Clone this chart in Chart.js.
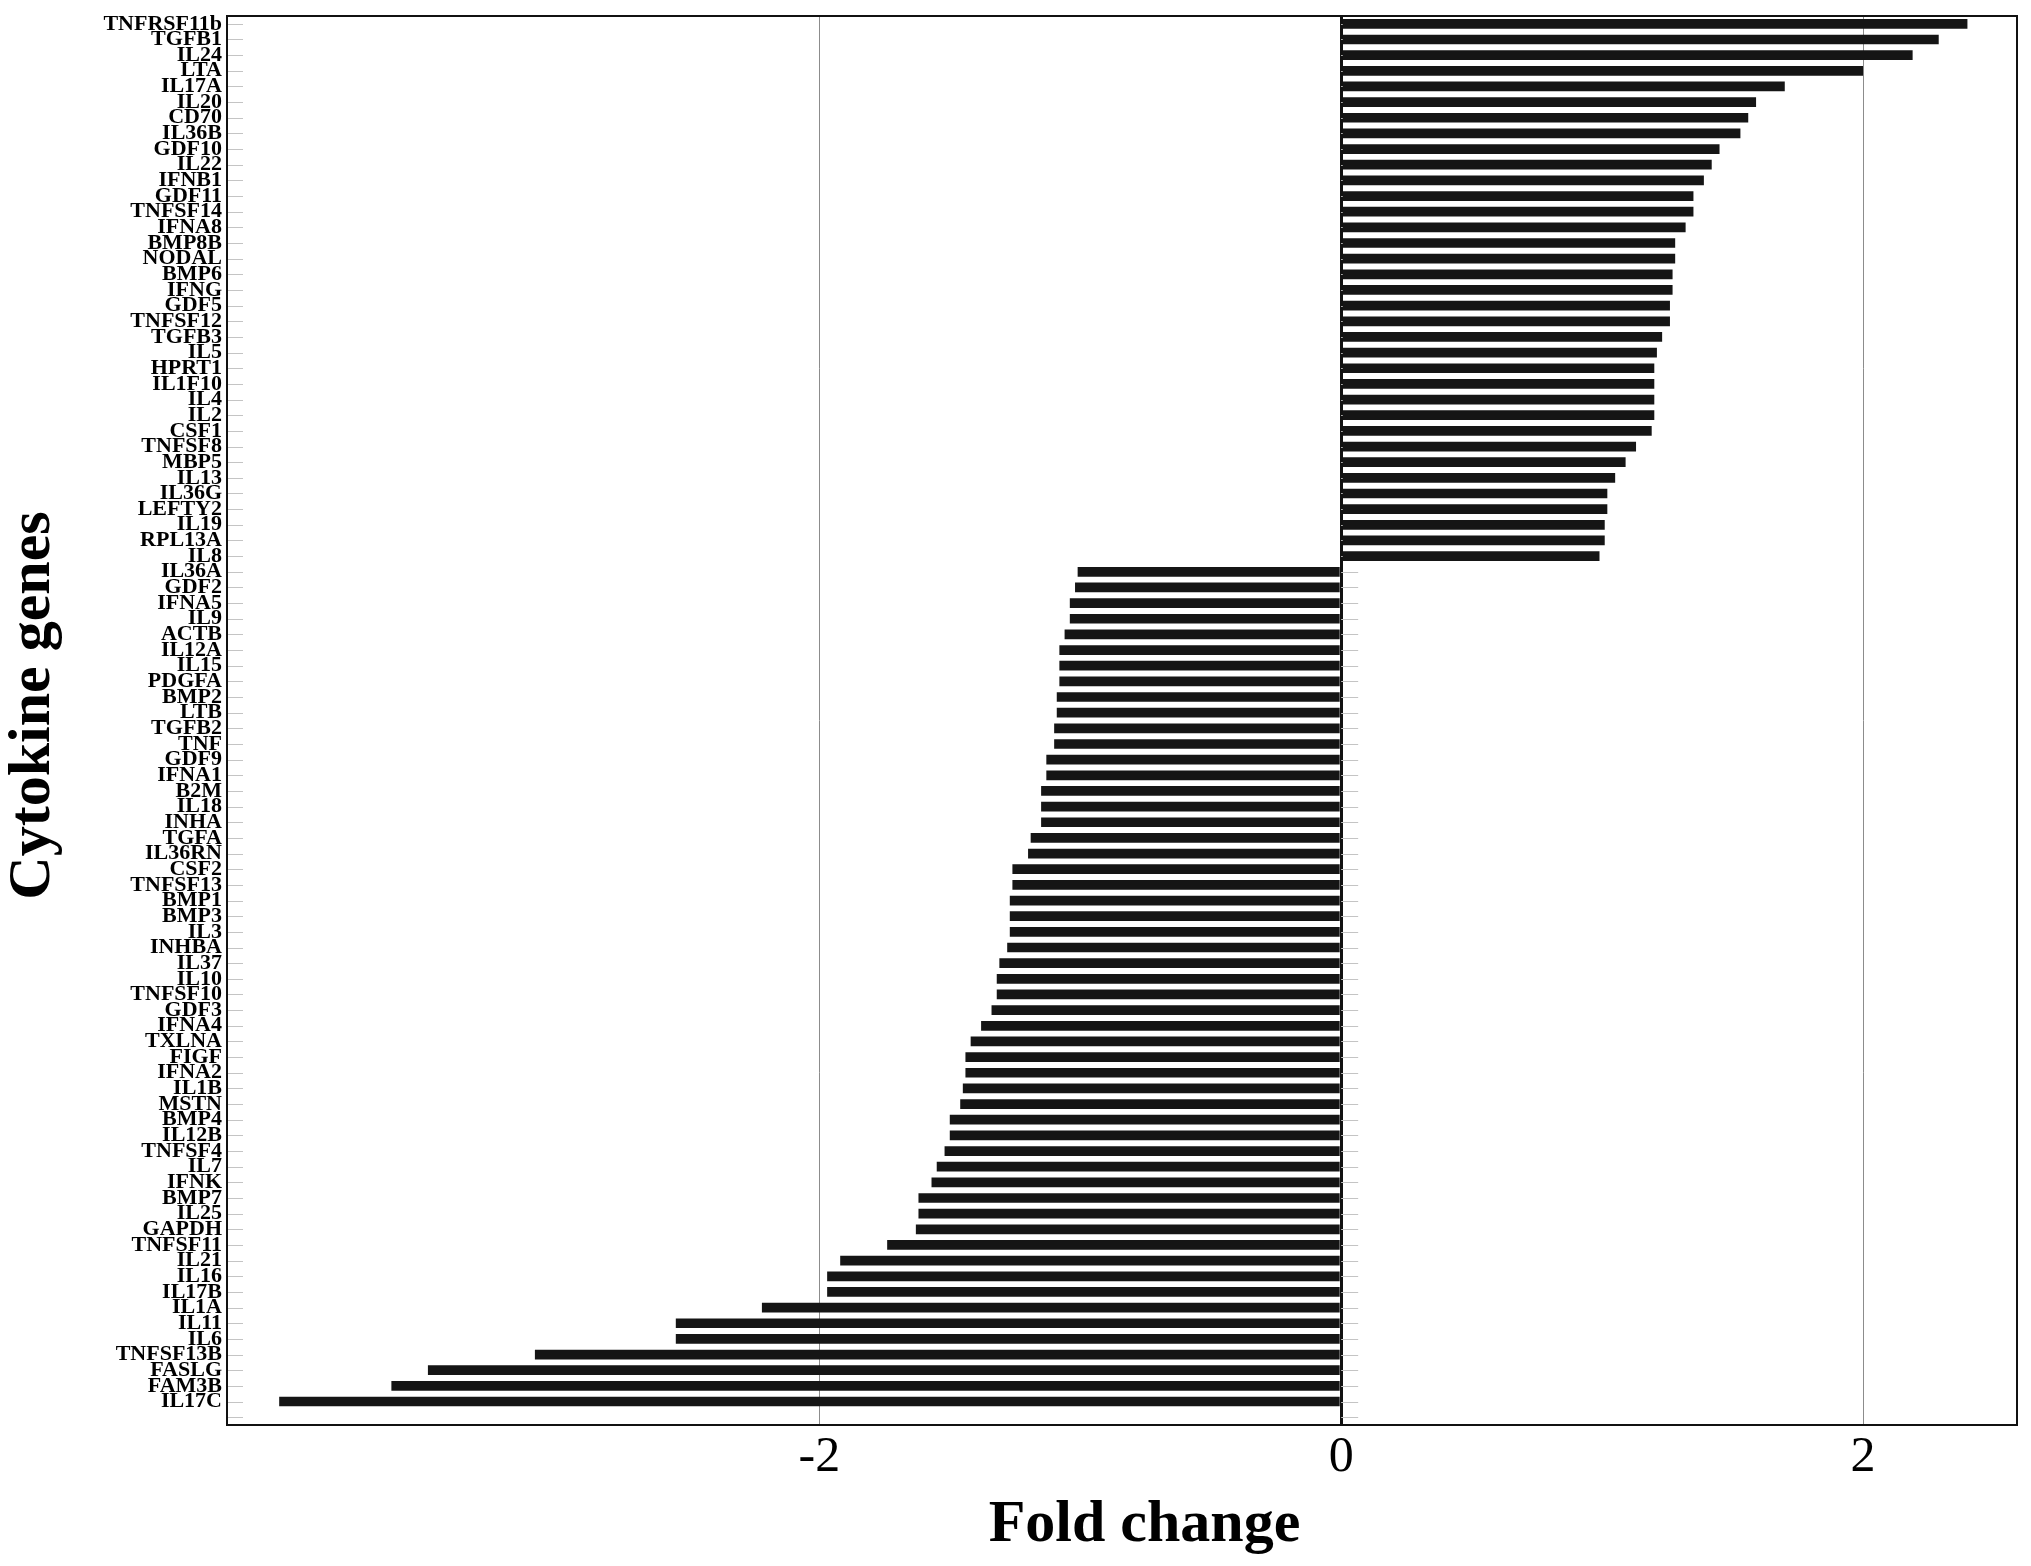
<!DOCTYPE html>
<html>
<head>
<meta charset="utf-8">
<title>Cytokine genes - fold change</title>
<script src="https://cdn.jsdelivr.net/npm/chart.js@4.4.1/dist/chart.umd.min.js"></script>
<style>
    html, body { margin: 0; padding: 0; background: #fff; }
    #chartWrap { width: 2031px; height: 1566px; }
</style>
</head>
<body>
<div id="chartWrap"><canvas id="foldChart" width="2031" height="1566"></canvas></div>
<script>
// Gene names, top to bottom (the last empty slot is the spare tick under IL17C)
const genes = [
    'TNFRSF11b', 'TGFB1', 'IL24', 'LTA', 'IL17A', 'IL20', 'CD70', 'IL36B', 'GDF10', 'IL22',
    'IFNB1', 'GDF11', 'TNFSF14', 'IFNA8', 'BMP8B', 'NODAL', 'BMP6', 'IFNG', 'GDF5', 'TNFSF12',
    'TGFB3', 'IL5', 'HPRT1', 'IL1F10', 'IL4', 'IL2', 'CSF1', 'TNFSF8', 'MBP5', 'IL13',
    'IL36G', 'LEFTY2', 'IL19', 'RPL13A', 'IL8', 'IL36A', 'GDF2', 'IFNA5', 'IL9', 'ACTB',
    'IL12A', 'IL15', 'PDGFA', 'BMP2', 'LTB', 'TGFB2', 'TNF', 'GDF9', 'IFNA1', 'B2M',
    'IL18', 'INHA', 'TGFA', 'IL36RN', 'CSF2', 'TNFSF13', 'BMP1', 'BMP3', 'IL3', 'INHBA',
    'IL37', 'IL10', 'TNFSF10', 'GDF3', 'IFNA4', 'TXLNA', 'FIGF', 'IFNA2', 'IL1B', 'MSTN',
    'BMP4', 'IL12B', 'TNFSF4', 'IL7', 'IFNK', 'BMP7', 'IL25', 'GAPDH', 'TNFSF11', 'IL21',
    'IL16', 'IL17B', 'IL1A', 'IL11', 'IL6', 'TNFSF13B', 'FASLG', 'FAM3B', 'IL17C', ''
];

// Fold change per gene, same order
const foldChange = [
    2.40, 2.29, 2.19, 2.00, 1.70, 1.59, 1.56, 1.53, 1.45, 1.42,
    1.39, 1.35, 1.35, 1.32, 1.28, 1.28, 1.27, 1.27, 1.26, 1.26,
    1.23, 1.21, 1.20, 1.20, 1.20, 1.20, 1.19, 1.13, 1.09, 1.05,
    1.02, 1.02, 1.01, 1.01, 0.99, -1.01, -1.02, -1.04, -1.04, -1.06,
    -1.08, -1.08, -1.08, -1.09, -1.09, -1.10, -1.10, -1.13, -1.13, -1.15,
    -1.15, -1.15, -1.19, -1.20, -1.26, -1.26, -1.27, -1.27, -1.27, -1.28,
    -1.31, -1.32, -1.32, -1.34, -1.38, -1.42, -1.44, -1.44, -1.45, -1.46,
    -1.50, -1.50, -1.52, -1.55, -1.57, -1.62, -1.62, -1.63, -1.74, -1.92,
    -1.97, -1.97, -2.22, -2.55, -2.55, -3.09, -3.50, -3.64, -4.07, null
];

// Fold change axis
const xTicks = [-2, 0, 2];
const xMin = -4.27;
const xMax = 2.59;

const serif = "'Liberation Serif', 'Times New Roman', serif";

/**
 * Short grey tick marks inside the plot (left edge and along zero)
 * plus the black frame around the plot area
 */
const framePlugin = {
    id: 'frame',
    beforeDatasetsDraw(chart) {
        const { ctx, chartArea, scales } = chart;
        const yScale = scales.y;
        const zeroX = scales.x.getPixelForValue(0);

        ctx.save();
        ctx.strokeStyle = '#c4c4c4';
        ctx.lineWidth = 1;
        ctx.beginPath();
        yScale.ticks.forEach((tick, i) => {
            const py = Math.round(yScale.getPixelForTick(i)) + 0.5;
            ctx.moveTo(chartArea.left, py);
            ctx.lineTo(chartArea.left + 16, py);
            ctx.moveTo(zeroX, py);
            ctx.lineTo(zeroX + 17, py);
        });
        ctx.stroke();
        ctx.restore();
    },
    afterDraw(chart) {
        const { ctx, chartArea } = chart;
        ctx.save();
        ctx.strokeStyle = '#111';
        ctx.lineWidth = 2;
        ctx.strokeRect(chartArea.left, chartArea.top,
            chartArea.right - chartArea.left, chartArea.bottom - chartArea.top);
        ctx.restore();
    }
};

document.addEventListener('DOMContentLoaded', function() {
    const ctx = document.getElementById('foldChart').getContext('2d');

    new Chart(ctx, {
        type: 'bar',
        data: {
            labels: genes,
            datasets: [{
                label: 'Fold change',
                data: foldChange,
                backgroundColor: '#151515',
                borderWidth: 0,
                barPercentage: 0.62,
                categoryPercentage: 1
            }]
        },
        options: {
            indexAxis: 'y',
            responsive: false,
            animation: false,
            devicePixelRatio: 1,
            layout: {
                padding: { top: 16, right: 14, bottom: 0, left: 0 }
            },
            plugins: {
                legend: { display: false },
                tooltip: { enabled: false }
            },
            scales: {
                x: {
                    type: 'linear',
                    min: xMin,
                    max: xMax,
                    afterBuildTicks: scale => {
                        scale.ticks = xTicks.map(v => ({ value: v }));
                    },
                    ticks: {
                        color: '#000',
                        padding: 8,
                        font: { family: serif, size: 50, lineHeight: 1 }
                    },
                    grid: {
                        drawTicks: false,
                        color: c => (c.tick && c.tick.value === 0 ? '#111' : '#8c8c8c'),
                        lineWidth: c => (c.tick && c.tick.value === 0 ? 3 : 1)
                    },
                    border: { display: false },
                    title: {
                        display: true,
                        text: '   Fold change',
                        color: '#000',
                        font: { family: serif, size: 60, weight: 'bold', lineHeight: 1.2 },
                        padding: { top: 0, bottom: 5 }
                    },
                    afterFit: scale => {
                        scale.height = 141;
                        scale.paddingLeft = 0;
                        scale.paddingRight = 0;
                    }
                },
                y: {
                    type: 'category',
                    offset: true,
                    grid: { display: false, drawTicks: false },
                    border: { display: false },
                    ticks: {
                        autoSkip: false,
                        color: '#000',
                        padding: 5,
                        font: { family: serif, size: 22, weight: 'bold', lineHeight: 1 }
                    },
                    title: {
                        display: true,
                        text: '  Cytokine genes',
                        color: '#000',
                        font: { family: serif, size: 60, weight: 'bold', lineHeight: 1 },
                        padding: { top: 3, bottom: 0 }
                    },
                    afterFit: scale => {
                        scale.width = 227;
                        scale.paddingTop = 0;
                        scale.paddingBottom = 0;
                    }
                }
            }
        },
        plugins: [framePlugin]
    });
});
</script>
</body>
</html>
